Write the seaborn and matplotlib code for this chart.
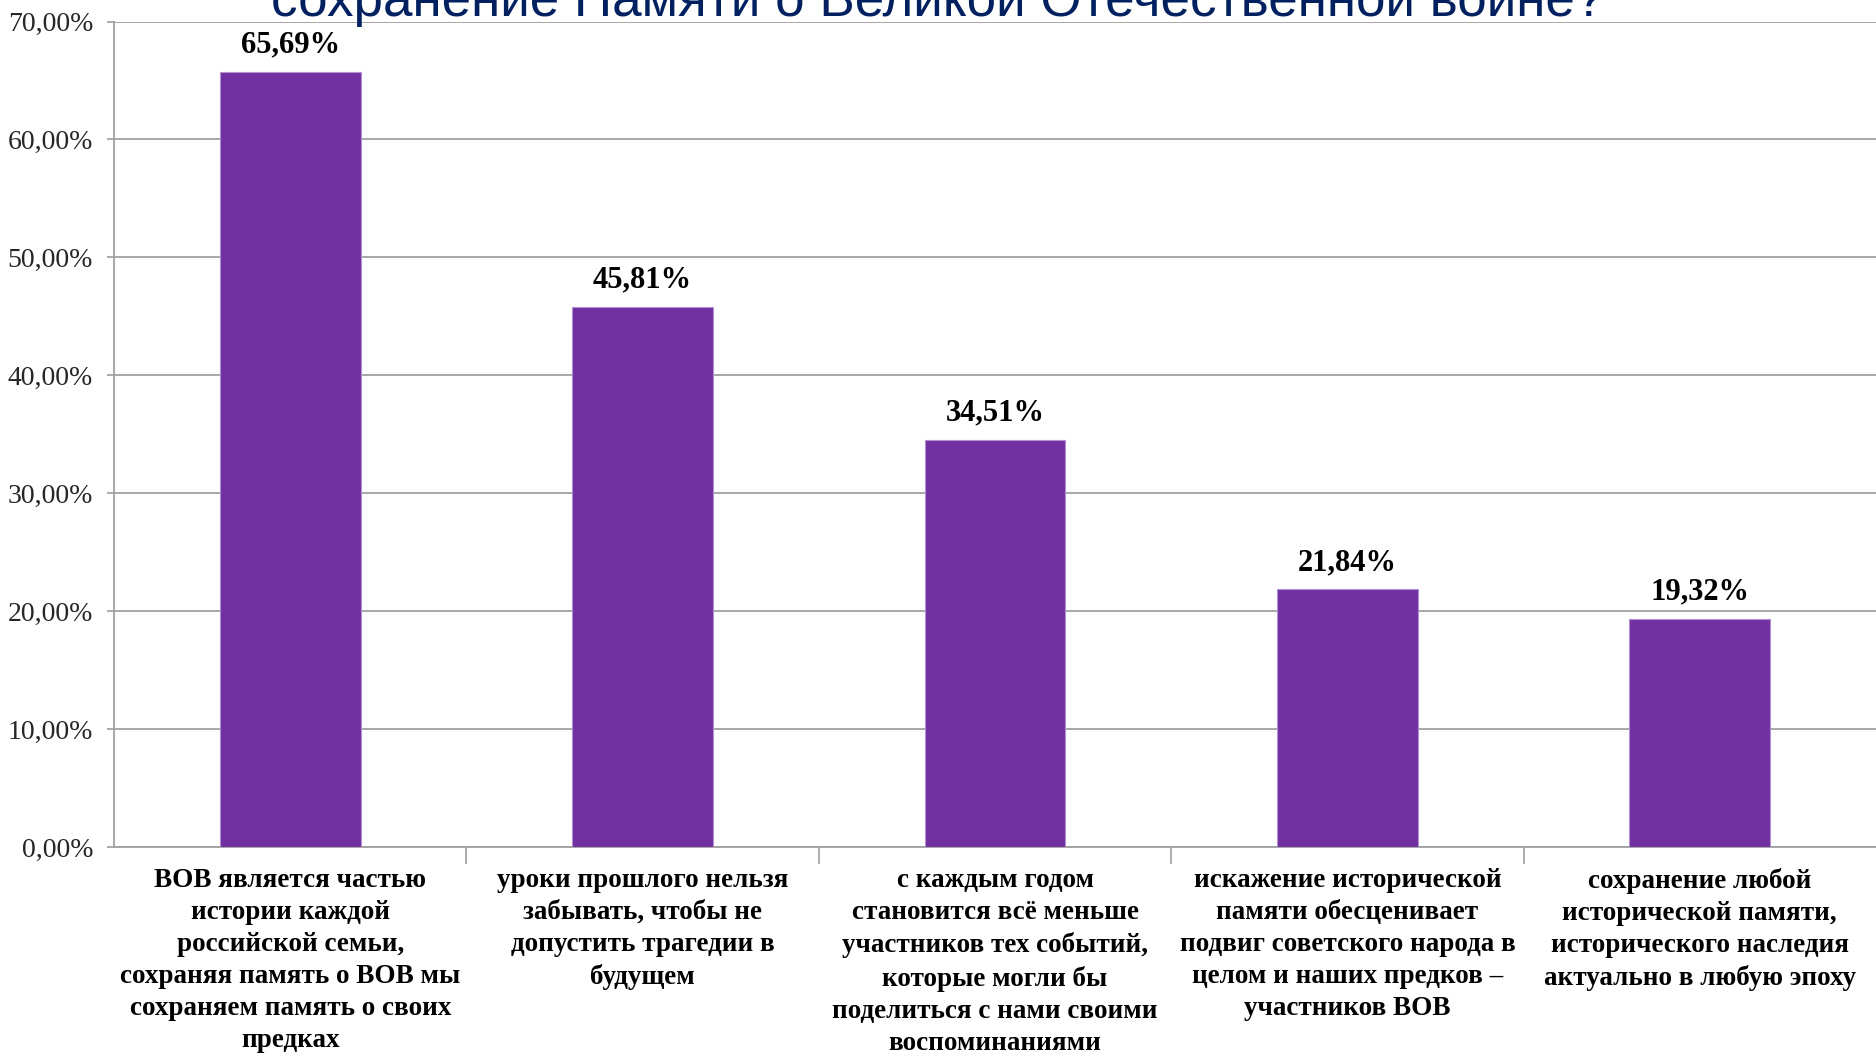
import matplotlib
matplotlib.use("Agg")
import matplotlib.pyplot as plt
import seaborn as sns
import pandas as pd
import numpy as np
from matplotlib.ticker import FixedLocator

categories = [
    "ВОВ является частью\nистории каждой\nроссийской семьи,\nсохраняя память о ВОВ мы\nсохраняем память о своих\nпредках",
    "уроки прошлого нельзя\nзабывать, чтобы не\nдопустить трагедии в\nбудущем",
    "с каждым годом\nстановится всё меньше\nучастников тех событий,\nкоторые могли бы\nподелиться с нами своими\nвоспоминаниями",
    "искажение исторической\nпамяти обесценивает\nподвиг советского народа в\nцелом и наших предков –\nучастников ВОВ",
    "сохранение любой\nисторической памяти,\nисторического наследия\nактуально в любую эпоху",
]
values = [65.69, 45.81, 34.51, 21.84, 19.32]
y_ticks = [0, 10, 20, 30, 40, 50, 60, 70]
title = "сохранение Памяти о Великой Отечественной войне?"

sns.set_theme(style="white")
plt.rcParams['font.family'] = ['Liberation Serif', 'DejaVu Serif']

W, H = 1876, 1056
fig = plt.figure(figsize=(W / 100, H / 100), dpi=100)
ax = fig.add_axes([114 / W, 1 - 847 / H, 1 - 114 / W, (847 - 21.5) / H])

df = pd.DataFrame({"cat": categories, "val": values})
sns.barplot(data=df, x="cat", y="val", color="#7030A0", saturation=1, width=0.4,
            edgecolor="#B48FD0", linewidth=0.8, ax=ax, zorder=3)

ax.set_ylim(0, 70)
ax.set_xlim(-0.5, len(categories) - 0.5)
ax.set_yticks(y_ticks)
ax.set_yticklabels([f"{t:.2f}".replace('.', ',') + "%" for t in y_ticks],
                   fontsize=20, color="#262626")
ax.yaxis.grid(True, color="#A0A0A0", linewidth=1.3, zorder=0)
ax.set_axisbelow(True)

ax.set_xticks(range(len(categories)))
ax.set_xticklabels(categories, fontsize=19.5, fontweight="bold", color="black",
                   linespacing=1.37, va="top")
ax.tick_params(axis="x", which="major", length=0, pad=15)
ax.xaxis.set_minor_locator(FixedLocator(np.arange(0.5, len(categories) - 0.5, 1)))
ax.tick_params(axis="x", which="minor", length=12, width=1.2, color="#A0A0A0", direction="out", bottom=True)
ax.tick_params(axis="y", length=5, width=1.2, color="#A0A0A0", direction="out", left=True, pad=10)

for s in ["top", "right"]:
    ax.spines[s].set_visible(False)
for s in ["left", "bottom"]:
    ax.spines[s].set_color("#A0A0A0")
    ax.spines[s].set_linewidth(1.3)

ax.set_xlabel("")
ax.set_ylabel("")

for i, v in enumerate(values):
    ax.annotate(f"{v:.2f}".replace('.', ',') + "%", (i, v), xytext=(0, 14),
                textcoords="offset points", ha="center", va="baseline",
                fontsize=22, fontweight="bold", color="black")

fig.text(0.5, 1 - 16 / H, title, ha="center", va="baseline", fontsize=38.2,
         color="#002060", family=["Liberation Sans", "DejaVu Sans"])

fig.savefig("out.png", dpi=100, facecolor="white")
